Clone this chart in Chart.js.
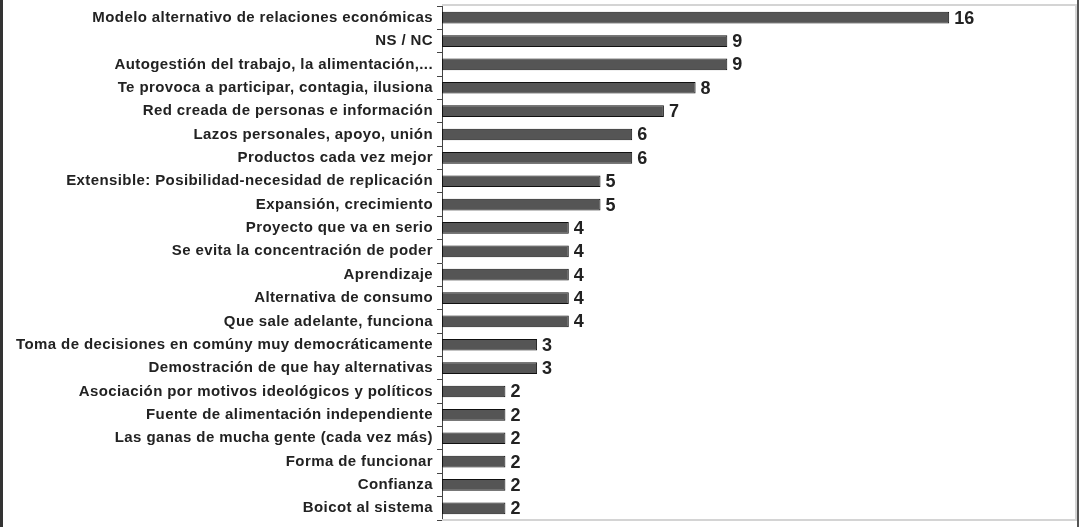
<!DOCTYPE html>
<html>
<head>
<meta charset="utf-8">
<script src="https://cdn.jsdelivr.net/npm/chart.js@4"></script>
<style>
  html, body { margin: 0; padding: 0; background: #fff; }
  #wrap { position: relative; width: 1079px; height: 527px; overflow: hidden; }
  #c { position: absolute; left: 0; top: 0; }
  .bandL { position: absolute; left: 0; top: 0; width: 3px; height: 527px; background: #333; }
  .bandR { position: absolute; right: 0; top: 0; width: 2px; height: 527px; background: #555; }
</style>
</head>
<body>
<div id="wrap">
  <canvas id="c" width="1079" height="527"></canvas>
  <div class="bandL"></div>
  <div class="bandR"></div>
</div>
<script>
const categories = [
  "Modelo alternativo de relaciones económicas",
  "NS / NC",
  "Autogestión del trabajo, la alimentación,...",
  "Te provoca a participar, contagia, ilusiona",
  "Red creada de personas e información",
  "Lazos personales, apoyo, unión",
  "Productos cada vez mejor",
  "Extensible: Posibilidad-necesidad de replicación",
  "Expansión, crecimiento",
  "Proyecto que va en serio",
  "Se evita la concentración de poder",
  "Aprendizaje",
  "Alternativa de consumo",
  "Que sale adelante, funciona",
  "Toma de decisiones en comúny muy democráticamente",
  "Demostración de que hay alternativas",
  "Asociación por motivos ideológicos y políticos",
  "Fuente de alimentación independiente",
  "Las ganas de mucha gente (cada vez más)",
  "Forma de funcionar",
  "Confianza",
  "Boicot al sistema"
];
const values = [16, 9, 9, 8, 7, 6, 6, 5, 5, 4, 4, 4, 4, 4, 3, 3, 2, 2, 2, 2, 2, 2];
const axisMin = 0;
const axisMax = 20;

const spacing = {
  id: 'spacing',
  beforeDraw(chart) { chart.ctx.letterSpacing = '0.4px'; }
};

const frame = {
  id: 'frame',
  beforeDatasetsDraw(chart) {
    const {ctx, chartArea: a} = chart;
    ctx.save();
    ctx.strokeStyle = '#d4d4d4';
    ctx.lineWidth = 2;
    ctx.beginPath();
    ctx.moveTo(a.left, a.top - 1);
    ctx.lineTo(a.right, a.top - 1);
    ctx.lineTo(a.right, a.bottom);
    ctx.lineTo(a.left, a.bottom);
    ctx.stroke();
    ctx.restore();
  }
};

const valueLabels = {
  id: 'valueLabels',
  afterDatasetsDraw(chart) {
    const {ctx} = chart;
    const meta = chart.getDatasetMeta(0);
    ctx.save();
    ctx.letterSpacing = '0px';
    ctx.font = 'bold 18px "Liberation Sans", Arial, sans-serif';
    ctx.fillStyle = '#222';
    ctx.textBaseline = 'middle';
    ctx.textAlign = 'left';
    meta.data.forEach((el, i) => {
      ctx.fillText(String(chart.data.datasets[0].data[i]), el.x + 5, el.y + 1);
    });
    ctx.restore();
  }
};

new Chart(document.getElementById('c'), {
  type: 'bar',
  data: {
    labels: categories,
    datasets: [{
      data: values,
      backgroundColor: '#555555',
      borderColor: '#111111',
      borderWidth: 1,
      borderSkipped: false,
      barPercentage: 0.5,
      categoryPercentage: 1.0
    }]
  },
  options: {
    indexAxis: 'y',
    responsive: false,
    animation: false,
    layout: { padding: { top: 6, right: 3, bottom: 7, left: 0 } },
    plugins: { legend: { display: false }, tooltip: { enabled: false } },
    scales: {
      x: {
        display: false,
        min: axisMin,
        max: axisMax
      },
      y: {
        afterFit(scale) { scale.width = 442; scale.paddingTop = 0; scale.paddingBottom = 0; },
        grid: {
          display: true,
          drawOnChartArea: false,
          drawTicks: true,
          tickLength: 5,
          color: '#444',
          offset: true
        },
        border: { display: true, color: '#444', width: 1 },
        ticks: {
          padding: 4,
          color: '#222',
          font: { family: '"Liberation Sans", Arial, sans-serif', size: 15, weight: 'bold' }
        }
      }
    }
  },
  plugins: [spacing, frame, valueLabels]
});
</script>
</body>
</html>
